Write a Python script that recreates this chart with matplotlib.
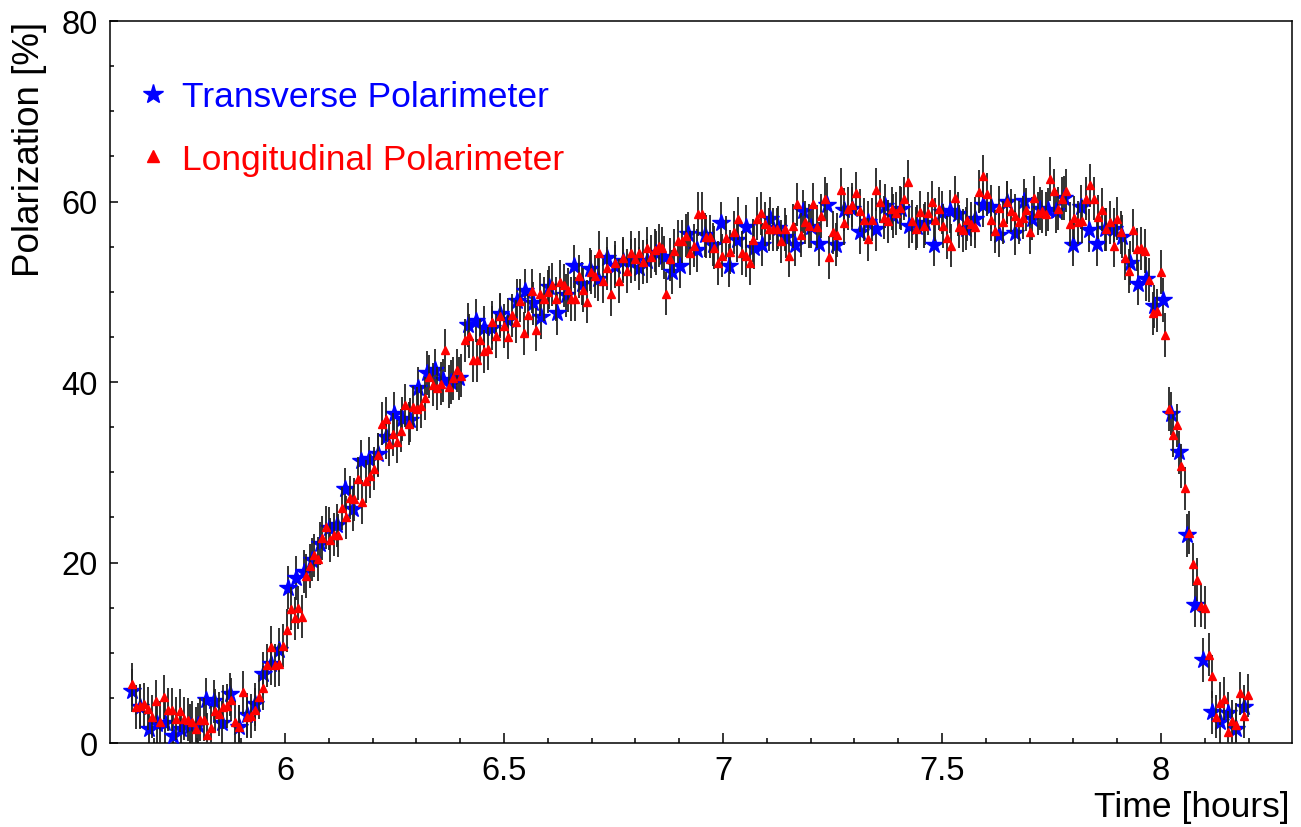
#!/usr/bin/env python3
import numpy as np
import matplotlib
matplotlib.use("Agg")
import matplotlib.pyplot as plt
from matplotlib.lines import Line2D
from matplotlib.ticker import MultipleLocator, FuncFormatter

plt.rcParams['font.family'] = ['Liberation Sans', 'DejaVu Sans']

# transverse polarimeter (blue stars), regular sampling in time
t_start_trans = 5.6514   # hours
dt_trans = 0.018668
p_trans = [
    5.8, 4.0, 1.6, 2.1, 2.2, 0.8, 1.5, 1.9, 2.0, 4.8,
    4.6, 2.2, 5.4, 1.8, 3.1, 4.3, 7.7, 8.8, 10.3, 17.2,
    18.3, 19.0, 20.3, 22.1, 23.8, 24.1, 28.1, 25.9, 31.2, 31.5,
    32.0, 33.9, 36.5, 35.9, 35.8, 39.3, 41.0, 41.3, 40.2, 40.0,
    40.4, 46.3, 46.8, 46.0, 46.0, 47.5, 46.9, 49.0, 50.1, 48.7,
    47.2, 50.5, 47.6, 49.6, 52.8, 50.9, 52.5, 51.4, 53.7, 52.8,
    53.4, 53.4, 52.6, 53.4, 54.3, 53.8, 52.2, 52.8, 56.4, 54.6,
    56.3, 55.2, 57.6, 52.9, 55.7, 57.2, 54.9, 55.2, 58.1, 57.1,
    56.1, 55.2, 58.9, 57.2, 55.3, 59.6, 55.2, 59.1, 59.2, 56.6,
    57.7, 56.9, 59.5, 58.4, 59.2, 57.3, 57.2, 57.6, 55.2, 58.8,
    58.9, 58.6, 57.0, 58.1, 59.6, 59.4, 56.3, 59.9, 56.5, 60.1,
    58.1, 59.2, 59.1, 58.9, 60.4, 55.2, 59.4, 56.8, 55.3, 56.9,
    56.9, 56.1, 53.2, 50.9, 51.4, 48.4, 49.1, 36.5, 32.2, 23.0,
    15.3, 9.2, 3.4, 2.3, 3.3, 1.6, 4.0]
err_trans = 2.4

# longitudinal polarimeter (red triangles)
t_start_long = 5.6514
dt_long = 0.009033
p_long = [
    6.5, 4.0, 4.1, 4.3, 3.8, 2.9, 4.6, 2.3, 5.1, 3.7,
    3.7, 2.7, 3.6, 2.7, 2.6, 2.3, 1.6, 2.6, 2.6, 0.9,
    1.7, 3.6, 3.2, 4.0, 4.1, 4.8, 2.3, 1.8, 5.6, 2.9,
    3.0, 3.7, 5.1, 6.1, 8.6, 10.6, 8.6, 8.7, 10.8, 12.5,
    14.9, 13.8, 15.0, 14.0, 18.5, 19.6, 20.8, 20.4, 22.7, 23.9,
    22.5, 23.1, 23.0, 26.0, 25.0, 27.2, 27.0, 29.3, 26.7, 29.0,
    29.6, 30.4, 31.9, 35.4, 35.9, 33.1, 34.2, 33.4, 34.6, 37.4,
    35.4, 37.2, 37.0, 37.3, 38.2, 40.6, 39.7, 39.3, 39.8, 43.5,
    39.5, 40.4, 41.3, 40.7, 44.6, 45.1, 42.4, 42.4, 44.6, 43.4,
    43.7, 46.6, 45.1, 47.3, 46.2, 45.0, 47.4, 46.7, 49.0, 45.4,
    47.4, 50.1, 45.8, 49.7, 49.2, 50.0, 50.8, 49.2, 51.1, 50.7,
    50.2, 49.2, 49.2, 51.7, 50.2, 48.9, 52.2, 51.7, 54.3, 51.2,
    52.6, 49.7, 53.2, 51.2, 53.7, 52.3, 54.3, 53.6, 54.3, 53.3,
    54.8, 53.9, 54.6, 55.1, 54.8, 49.8, 53.6, 54.5, 55.6, 55.6,
    56.2, 54.3, 55.1, 58.6, 58.6, 56.1, 56.1, 54.9, 53.2, 54.0,
    56.0, 54.4, 56.6, 58.1, 54.3, 54.0, 53.2, 55.7, 58.1, 58.7,
    57.5, 56.9, 56.9, 56.9, 55.6, 56.9, 54.0, 57.3, 59.7, 56.3,
    57.7, 57.3, 59.7, 57.2, 58.4, 60.3, 53.8, 56.6, 56.3, 61.3,
    57.6, 59.2, 59.6, 60.9, 59.0, 58.0, 55.8, 58.0, 61.3, 60.0,
    58.2, 57.8, 59.2, 58.7, 59.3, 60.3, 62.2, 57.8, 57.0, 58.8,
    57.3, 58.7, 59.9, 58.0, 59.2, 57.3, 56.0, 55.1, 60.4, 57.2,
    56.8, 58.0, 57.5, 57.2, 61.1, 62.8, 60.8, 58.0, 56.7, 59.3,
    57.7, 59.9, 59.0, 58.4, 57.7, 58.2, 59.1, 56.6, 60.4, 58.7,
    58.9, 58.6, 62.5, 61.2, 59.2, 60.3, 61.2, 57.5, 58.2, 57.7,
    57.8, 60.3, 61.8, 60.3, 58.3, 59.1, 56.9, 57.7, 55.1, 58.1,
    56.6, 53.7, 52.3, 56.8, 54.7, 54.8, 54.5, 51.3, 47.6, 47.9,
    52.2, 45.2, 37.0, 34.1, 35.2, 30.7, 28.2, 23.3, 19.8, 18.1,
    15.2, 15.0, 9.8, 7.4, 2.9, 4.4, 4.9, 1.2, 2.4, 2.0,
    5.5, 3.0, 5.3]
err_long = 2.4

labels = ["Transverse Polarimeter", "Longitudinal Polarimeter"]


def main():
    t_trans = t_start_trans + dt_trans * np.arange(len(p_trans))
    t_long = t_start_long + dt_long * np.arange(len(p_long))

    fig = plt.figure(figsize=(13.01, 8.28), dpi=100)
    ax = fig.add_axes([110/1301, 1 - 744/828, 1182/1301, 722/828])

    ax.errorbar(t_trans, p_trans, yerr=err_trans, fmt='none',
                ecolor='#222222', elinewidth=1.3, zorder=2)
    ax.plot(t_trans, p_trans, ls='none', marker='*', ms=13,
            color='blue', mec='blue', zorder=3)
    ax.errorbar(t_long, p_long, yerr=err_long, fmt='none',
                ecolor='#222222', elinewidth=1.3, zorder=4)
    ax.plot(t_long, p_long, ls='none', marker='^', ms=6,
            color='red', mec='red', zorder=5)

    ax.set_xlim(5.6005, 8.299)
    ax.set_ylim(0, 80)
    ax.xaxis.set_major_locator(MultipleLocator(0.5))
    ax.xaxis.set_minor_locator(MultipleLocator(0.1))
    ax.yaxis.set_major_locator(MultipleLocator(20))
    ax.yaxis.set_minor_locator(MultipleLocator(5))
    fmt = FuncFormatter(lambda v, pos: "%g" % v)
    ax.xaxis.set_major_formatter(fmt)
    ax.yaxis.set_major_formatter(fmt)

    ax.tick_params(which='both', direction='in', top=False, right=False,
                   labelsize=23.5, width=1.1)
    ax.tick_params(axis='x', which='major', length=7.2, pad=9)
    ax.tick_params(axis='x', which='minor', length=3.6)
    ax.tick_params(axis='y', which='major', length=6, pad=9)
    ax.tick_params(axis='y', which='minor', length=3)
    for sp in ax.spines.values():
        sp.set_linewidth(1.1)

    fig.text(30/1301, 1 - 22/828, "Polarization [%]", rotation=90,
             ha='center', va='top', fontsize=26.5)
    fig.text(1290/1301, 1 - 808/828, "Time [hours]",
             ha='right', va='center', fontsize=25.5)

    handles = [
        Line2D([], [], ls='none', marker='*', ms=15, color='blue'),
        Line2D([], [], ls='none', marker='^', ms=9, color='red'),
    ]
    ax.legend(handles, labels, loc='upper left',
              bbox_to_anchor=(25/1182, 0.918), frameon=False,
              fontsize=25.5, labelcolor='linecolor', handlelength=1.0,
              handletextpad=0.32, labelspacing=0.83,
              borderpad=0, borderaxespad=0)

    plt.savefig('out.png', dpi=100)


if __name__ == '__main__':
    main()
